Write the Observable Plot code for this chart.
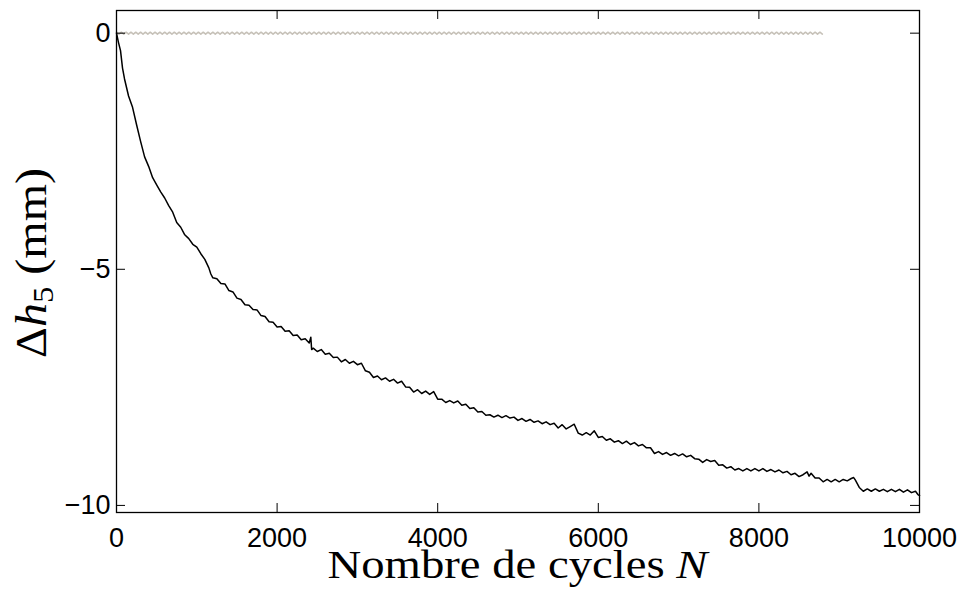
<!DOCTYPE html>
<html>
<head>
<meta charset="utf-8">
<script src="https://cdn.jsdelivr.net/npm/d3@7"></script>
<script src="https://cdn.jsdelivr.net/npm/@observablehq/plot@0.6"></script>
<style>
  html, body { margin: 0; padding: 0; background: white; }
  svg { display: block; }
</style>
</head>
<body>
<div id="chart"></div>
<script>
// Black series: Δh5 (mm) vs number of cycles N
const cycles = [0,25,50,75,100,150,200,250,300,350,400,450,500,550,600,650,700,750,800,850,900,950,
  1000,1050,1100,1150,1175,1200,1250,1300,1350,1400,1450,1500,1550,1600,1650,1700,1750,1800,1850,1900,1950,
  2000,2050,2100,2150,2200,2250,2300,2350,2400,2420,2430,2450,2500,2550,2600,2650,2700,2750,2800,2850,2900,2950,
  3000,3050,3100,3150,3200,3250,3300,3350,3400,3450,3500,3550,3600,3650,3700,3750,3800,3850,3900,3950,
  4000,4050,4100,4150,4200,4250,4300,4350,4400,4450,4500,4550,4600,4650,4700,4750,4800,4850,4900,4950,
  5000,5050,5100,5150,5200,5250,5300,5350,5400,5450,5500,5550,5600,5650,5700,5750,5800,5850,5900,5950,
  6000,6050,6100,6150,6200,6250,6300,6350,6400,6450,6500,6550,6600,6650,6700,6750,6800,6850,6900,6950,
  7000,7050,7100,7150,7200,7250,7300,7350,7400,7450,7500,7550,7600,7650,7700,7750,7800,7850,7900,7950,
  8000,8050,8100,8150,8200,8250,8300,8350,8400,8450,8500,8550,8600,8625,8650,8700,8750,8800,8850,8900,8950,
  9000,9050,9100,9150,9180,9200,9250,9300,9350,9400,9450,9500,9550,9600,9650,9700,9750,9800,9850,9900,9950,9980,10000];
const deltaH5 = [0,-0.20,-0.37,-0.74,-0.97,-1.33,-1.57,-1.94,-2.29,-2.62,-2.82,-3.06,-3.21,-3.36,-3.49,-3.65,-3.79,-4.01,-4.11,-4.27,-4.35,-4.47,
  -4.53,-4.67,-4.79,-4.97,-5.10,-5.18,-5.20,-5.30,-5.31,-5.45,-5.48,-5.61,-5.64,-5.75,-5.76,-5.85,-5.86,-5.98,-6.00,-6.11,-6.12,
  -6.22,-6.21,-6.31,-6.30,-6.40,-6.39,-6.49,-6.47,-6.56,-6.44,-6.70,-6.67,-6.74,-6.70,-6.80,-6.78,-6.87,-6.86,-6.96,-6.91,-6.99,-6.95,
  -7.02,-6.99,-7.15,-7.18,-7.29,-7.26,-7.34,-7.30,-7.37,-7.33,-7.41,-7.37,-7.49,-7.50,-7.60,-7.55,-7.63,-7.58,-7.65,-7.59,
  -7.75,-7.75,-7.82,-7.78,-7.83,-7.79,-7.88,-7.86,-7.95,-7.93,-8.02,-8.01,-8.09,-8.08,-8.13,-8.09,-8.14,-8.10,-8.15,-8.13,
  -8.20,-8.16,-8.22,-8.18,-8.24,-8.21,-8.27,-8.23,-8.29,-8.26,-8.36,-8.29,-8.38,-8.33,-8.28,-8.47,-8.51,-8.46,-8.51,-8.42,
  -8.56,-8.54,-8.62,-8.59,-8.66,-8.63,-8.69,-8.64,-8.71,-8.67,-8.74,-8.71,-8.78,-8.78,-8.90,-8.86,-8.92,-8.88,-8.94,-8.90,
  -8.95,-8.91,-8.97,-8.94,-9.01,-9.02,-9.09,-9.03,-9.07,-9.05,-9.15,-9.14,-9.21,-9.18,-9.25,-9.22,-9.27,-9.22,-9.27,-9.22,
  -9.27,-9.22,-9.28,-9.24,-9.29,-9.25,-9.31,-9.28,-9.35,-9.32,-9.39,-9.35,-9.29,-9.38,-9.32,-9.42,-9.42,-9.50,-9.45,-9.50,-9.45,
  -9.50,-9.45,-9.48,-9.43,-9.41,-9.46,-9.62,-9.70,-9.65,-9.70,-9.65,-9.70,-9.66,-9.71,-9.66,-9.71,-9.66,-9.72,-9.67,-9.73,-9.70,-9.77,-9.79];

// Grey reference series: small oscillation around 0, sampled every refStep cycles
const refStep = 30;
const refDelta = [
  0.02,-0.02,0.02,-0.02,0.02,-0.02,0.02,-0.02,0.02,-0.02,0.02,-0.02,0.02,-0.02,0.02,-0.02,0.02,-0.02,0.02,-0.02,
  0.02,-0.02,0.02,-0.02,0.02,-0.02,0.02,-0.02,0.02,-0.02,0.02,-0.02,0.02,-0.02,0.02,-0.02,0.02,-0.02,0.02,-0.02,
  0.02,-0.02,0.02,-0.02,0.02,-0.02,0.02,-0.02,0.02,-0.02,0.02,-0.02,0.02,-0.02,0.02,-0.02,0.02,-0.02,0.02,-0.02,
  0.02,-0.02,0.02,-0.02,0.02,-0.02,0.02,-0.02,0.02,-0.02,0.02,-0.02,0.02,-0.02,0.02,-0.02,0.02,-0.02,0.02,-0.02,
  0.02,-0.02,0.02,-0.02,0.02,-0.02,0.02,-0.02,0.02,-0.02,0.02,-0.02,0.02,-0.02,0.02,-0.02,0.02,-0.02,0.02,-0.02,
  0.02,-0.02,0.02,-0.02,0.02,-0.02,0.02,-0.02,0.02,-0.02,0.02,-0.02,0.02,-0.02,0.02,-0.02,0.02,-0.02,0.02,-0.02,
  0.02,-0.02,0.02,-0.02,0.02,-0.02,0.02,-0.02,0.02,-0.02,0.02,-0.02,0.02,-0.02,0.02,-0.02,0.02,-0.02,0.02,-0.02,
  0.02,-0.02,0.02,-0.02,0.02,-0.02,0.02,-0.02,0.02,-0.02,0.02,-0.02,0.02,-0.02,0.02,-0.02,0.02,-0.02,0.02,-0.02,
  0.02,-0.02,0.02,-0.02,0.02,-0.02,0.02,-0.02,0.02,-0.02,0.02,-0.02,0.02,-0.02,0.02,-0.02,0.02,-0.02,0.02,-0.02,
  0.02,-0.02,0.02,-0.02,0.02,-0.02,0.02,-0.02,0.02,-0.02,0.02,-0.02,0.02,-0.02,0.02,-0.02,0.02,-0.02,0.02,-0.02,
  0.02,-0.02,0.02,-0.02,0.02,-0.02,0.02,-0.02,0.02,-0.02,0.02,-0.02,0.02,-0.02,0.02,-0.02,0.02,-0.02,0.02,-0.02,
  0.02,-0.02,0.02,-0.02,0.02,-0.02,0.02,-0.02,0.02,-0.02,0.02,-0.02,0.02,-0.02,0.02,-0.02,0.02,-0.02,0.02,-0.02,
  0.02,-0.02,0.02,-0.02,0.02,-0.02,0.02,-0.02,0.02,-0.02,0.02,-0.02,0.02,-0.02,0.02,-0.02,0.02,-0.02,0.02,-0.02,
  0.02,-0.02,0.02,-0.02,0.02,-0.02,0.02,-0.02,0.02,-0.02,0.02,-0.02,0.02,-0.02,0.02,-0.02,0.02,-0.02,0.02,-0.02,
  0.02,-0.02,0.02,-0.02,0.02,-0.02,0.02,-0.02,0.02,-0.02,0.02,-0.02,0.02,-0.02
];

const xTicks = [0, 2000, 4000, 6000, 8000, 10000];
const yTicks = [0, -5, -10];
const xLabelText = "Nombre de cycles ";
const xLabelVar = "N";
const yLabelParts = ["\u0394", "h", "5", " (mm)"];

const W = 963, H = 592;
const mL = 116, mR = 44, mT = 10, mB = 80;
const pw = W - mL - mR, ph = H - mT - mB;
const tickLen = 9;

const mainData = cycles.map((n, i) => ({n, v: deltaH5[i]}));
const refData = refDelta.map((v, i) => ({n: i * refStep, v}));

const fmt = d => d < 0 ? "\u2212" + Math.abs(d) : String(d);

const svg = Plot.plot({
  width: W, height: H,
  marginLeft: mL, marginRight: mR, marginTop: mT, marginBottom: mB,
  style: {background: "white", color: "black", fontFamily: "'Liberation Sans', Arial, sans-serif", fontSize: "27px"},
  x: {domain: [0, 10000]},
  y: {domain: [-10.15, 0.48]},
  marks: [
    Plot.line(refData, {x: "n", y: "v", stroke: "#c6c1b8", strokeWidth: 1.6}),
    Plot.line(mainData, {x: "n", y: "v", stroke: "black", strokeWidth: 1.5}),
    Plot.frame({stroke: "black", strokeWidth: 1.3}),
    Plot.tickY(yTicks, {y: d => d, insetRight: pw - tickLen, stroke: "black"}),
    Plot.tickY(yTicks, {y: d => d, insetLeft: pw - tickLen, stroke: "black"}),
    Plot.tickX(xTicks, {x: d => d, insetTop: ph - tickLen, stroke: "black"}),
    Plot.tickX(xTicks, {x: d => d, insetBottom: ph - tickLen, stroke: "black"}),
    Plot.axisX({ticks: xTicks, tickSize: 0, tickPadding: 15, tickFormat: d => String(d), label: null, fontSize: 27}),
    Plot.axisY({ticks: yTicks, tickSize: 0, tickPadding: 6, tickFormat: fmt, label: null, fontSize: 27})
  ]
});

const s = d3.select(svg);
const serif = "'Liberation Serif', 'Times New Roman', serif";
const xl = s.append("text")
  .attr("x", mL + pw / 2).attr("y", 578)
  .attr("text-anchor", "middle")
  .attr("font-family", serif).attr("font-size", 39).attr("fill", "black")
  .attr("textLength", 380).attr("lengthAdjust", "spacingAndGlyphs");
xl.append("tspan").text(xLabelText);
xl.append("tspan").attr("font-style", "italic").text(xLabelVar);

const yl = s.append("text")
  .attr("transform", `translate(46,${mT + ph / 2 + 2}) rotate(-90)`)
  .attr("text-anchor", "middle")
  .attr("font-family", serif).attr("font-size", 44).attr("fill", "black")
  .attr("textLength", 190).attr("lengthAdjust", "spacingAndGlyphs");
yl.append("tspan").text(yLabelParts[0]);
yl.append("tspan").attr("font-style", "italic").text(yLabelParts[1]);
yl.append("tspan").attr("font-size", 30).attr("dy", 7).text(yLabelParts[2]);
yl.append("tspan").attr("dy", -7).text(yLabelParts[3]);

document.getElementById("chart").appendChild(svg);
</script>
</body>
</html>
